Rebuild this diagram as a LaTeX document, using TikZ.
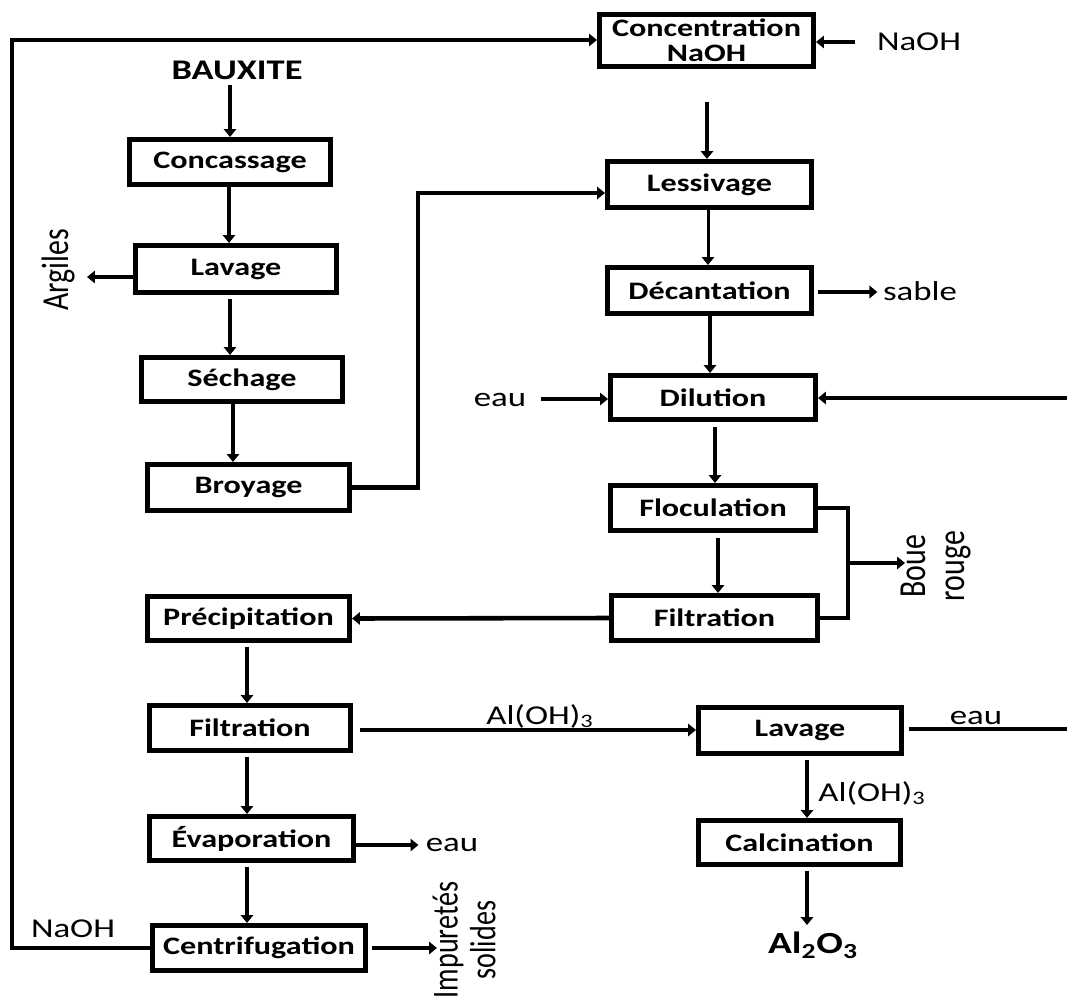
\documentclass[tikz,border=0pt]{standalone}
\usepackage{fontspec}
\setmainfont{Carlito}[FakeStretch=1.28]
\newfontfamily\plainfont{Carlito}
\usetikzlibrary{arrows.meta}
\begin{document}
\begin{tikzpicture}[x=0.02cm,y=-0.02cm,
  box/.style 2 args={draw, line width=2.6pt, inner sep=0pt,
    minimum width=#1*0.02cm-0.09cm, minimum height=#2*0.02cm-0.09cm,
    font=\fontsize{14.3}{14.3}\selectfont\bfseries, align=center},
  lab/.style={inner sep=0pt, font=\fontsize{15.5}{16}\selectfont},
  rlab/.style={inner sep=0pt, rotate=90, font=\plainfont\fontsize{17}{17.5}\selectfont},
  line/.style={line width=2.6pt},
  arr/.style={line, -{Triangle[length=4.5pt,width=7pt]}},
]
\fill[white] (0,0) rectangle (1067,1007);
\useasboundingbox (0,0) rectangle (1067,1007);

% boxes
\node[box={206}{50}] (conc) at (230,162) {Concassage};
\node[box={206}{52}] (lav1) at (236,269) {Lavage};
\node[box={206}{49}] (sech) at (242,379.5) {Séchage};
\node[box={207}{51}] (broy) at (248.5,487.5) {Broyage};
\node[box={207}{49}] (prec) at (248.5,618.5) {Précipitation};
\node[box={206}{50}] (filt1) at (250,728) {Filtration};
\node[box={209}{49}] (evap) at (251.5,838.5) {Évaporation};
\node[box={218}{50}] (centri) at (259,948) {Centrifugation};
\node[box={219}{57}] (concent) at (706.5,40.5) {Concentration\\NaOH};
\node[box={209}{51}] (less) at (709.5,184.5) {Lessivage};
\node[box={209}{51}] (deca) at (709.5,290.5) {Décantation};
\node[box={210}{49}] (dil) at (713,397.5) {Dilution};
\node[box={210}{50}] (flo) at (713,508) {Floculation};
\node[box={211}{50}] (filt2) at (714.5,618) {Filtration};
\node[box={208}{51}] (lav2) at (800,730.5) {Lavage};
\node[box={207}{49}] (calc) at (799.5,842.5) {Calcination};

% labels
\node[lab, font=\fontsize{16.2}{17}\selectfont\bfseries] (baux) at (237,70) {BAUXITE};
\node[lab] (naoh1) at (919,42) {NaOH};
\node[lab] (sable) at (920,291) {sable};
\node[lab] (eau1) at (500,400) {eau};
\node[lab] (naoh2) at (73,929) {NaOH};
\node[lab] (eau2) at (452,845) {eau};
\node[lab] (eau3) at (976,718) {eau};
\node[lab] (aloh1) at (540,716) {Al(OH)\textsubscript{3}};
\node[lab, anchor=west] (aloh2) at (818,793) {Al(OH)\textsubscript{3}};
\node[lab, font=\fontsize{17.5}{18}\selectfont\bfseries] (al2o3) at (813,945) {Al\textsubscript{2}O\textsubscript{3}};
\node[rlab] (argiles) at (59,270) {\scalebox{1}[1.28]{Argiles}};
\node[rlab] (boue) at (937,566) {\scalebox{1}[1.28]{\begin{tabular}{@{}c@{}}Boue\\rouge\end{tabular}}};
\node[rlab, font=\plainfont\fontsize{16}{16.5}\selectfont] (imp) at (469,940) {\scalebox{1}[1.3]{\begin{tabular}{@{}c@{}}Impuretés\\solides\end{tabular}}};

% coordinates for free ends
\coordinate (ag) at (87,277);
\coordinate (bl) at (418,193);
\coordinate (lt) at (12,40);
\coordinate (n1) at (855,42);
\coordinate (cn) at (707,102);
\coordinate (r1) at (1067,398);
\coordinate (r2) at (1067,729);
\coordinate (bj) at (848,563);
\coordinate (bt) at (905,563);
\coordinate (ie) at (437,948);

% left column
\draw[arr] (conc.north |- baux.south) ++(0,5) -- (conc.north);
\draw[arr] (conc.south -| 229,0) -- (lav1.north -| 229,0);
\draw[arr] (lav1.west |- ag) -- (ag);
\draw[arr, shorten <=2pt] (lav1.south -| 230,0) -- (sech.north -| 230,0);
\draw[arr] (sech.south -| 233,0) -- (broy.north -| 233,0);
\draw[arr] (broy.east) -| (bl) -- (bl -| less.west);
\draw[arr] (centri.west) -| (lt) -- (lt -| concent.west);
\draw[arr, shorten <=2pt] (prec.south -| 247,0) -- (filt1.north -| 247,0);
\draw[arr, shorten <=2pt] (filt1.south -| 247,0) -- (evap.north -| 247,0);
\draw[arr, shorten <=2pt] (evap.south -| 247,0) -- (centri.north -| 247,0);
\draw[arr, shorten >=4pt] (evap.east |- eau2) -- (eau2.west);
\draw[arr, shorten <=2pt] (centri.east) -- (ie);
\draw[arr, line width=2pt, shorten <=4pt] (filt1.east |- 0,730) -- (lav2.west |- 0,730);

% right column
\draw[arr] (n1) -- (n1 -| concent.east);
\draw[arr] (cn) -- (cn |- less.north);
\draw[arr, line width=1.7pt] (less.south -| 708,0) -- (deca.north -| 708,0);
\draw[arr, shorten <=2pt, shorten >=3pt] (deca.east |- 0,292) -- (sable.west |- 0,292);
\draw[arr] (deca.south -| 710,0) -- (dil.north -| 710,0);
\draw[arr, shorten <=8pt] (eau1.east |- 0,399) -- (dil.west |- 0,399);
\draw[arr] (r1) -- (r1 -| dil.east);
\draw[arr, shorten <=3pt] (dil.south -| 715,0) -- (flo.north -| 715,0);
\draw[arr, shorten <=3pt] (flo.south -| 718,0) -- (filt2.north -| 718,0);
\draw[line] (flo.east) -| (bj) |- (filt2.east);
\draw[arr] (bj) -- (bt);
\draw[arr] (filt2.west) -- (prec.east);
\draw[line, shorten <=3pt] (lav2.east |- r2) -- (r2);
\draw[arr, shorten <=2pt] (lav2.south -| 807,0) -- (calc.north -| 807,0);
\draw[arr, shorten <=2pt] (calc.south -| 807,0) -- (807,925);
\end{tikzpicture}
\end{document}
